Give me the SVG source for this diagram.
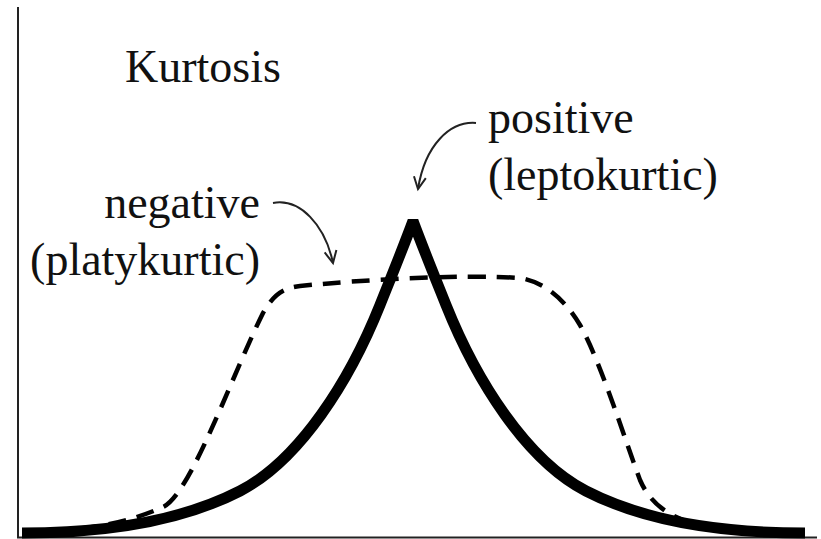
<svg xmlns="http://www.w3.org/2000/svg" width="821" height="539" viewBox="0 0 821 539">
<defs>
<marker id="vhead" markerUnits="userSpaceOnUse" markerWidth="20" markerHeight="20" refX="13" refY="7" orient="auto">
<path d="M1,1 L13,7 L1,13" fill="none" stroke="#222" stroke-width="2"/>
</marker>
</defs>
<g id="axes" stroke="#222" stroke-width="2" fill="none">
<line x1="18" y1="7" x2="18" y2="538"/>
<line x1="17" y1="537.5" x2="817" y2="537.5"/>
</g>
<g id="curves" stroke="#000" fill="none">
<path id="leptokurtic-curve" stroke-width="11" stroke-linejoin="bevel" d="M22,533 C100,533 180,522 240,491 C300,460 350,380 380,305 C392,275 403,248 413,221 C423,248 434,275 446,305 C476,380 526,460 586,491 C646,522 726,533 805,533"/>
<path id="platykurtic-curve" stroke-width="4.5" stroke-dasharray="18 11" d="M22,531 C80,531 120,526 163,507 C190,495 230,380 263,313 C275,292 285,288 300,286 C360,280 460,274 520,278 C545,282 565,300 580,325 C600,360 625,440 640,480 C655,515 690,528 740,530 L805,531"/>
</g>
<g font-family="Liberation Serif, serif" font-size="46" fill="#111">
<g id="title"><text x="125" y="82">Kurtosis</text></g>
<g id="negative-label">
<text x="260" y="218" text-anchor="end">negative</text>
<text x="260" y="275" text-anchor="end">(platykurtic)</text>
</g>
<g id="positive-label">
<text x="488" y="133">positive</text>
<text x="488" y="190">(leptokurtic)</text>
</g>
</g>
<g id="connectors" stroke="#222" stroke-width="2" fill="none">
<path marker-end="url(#vhead)" d="M273,203 C300,198 325,225 333,263"/>
<path marker-end="url(#vhead)" d="M476,123 C450,121 425,145 418,189"/>
</g>
</svg>
